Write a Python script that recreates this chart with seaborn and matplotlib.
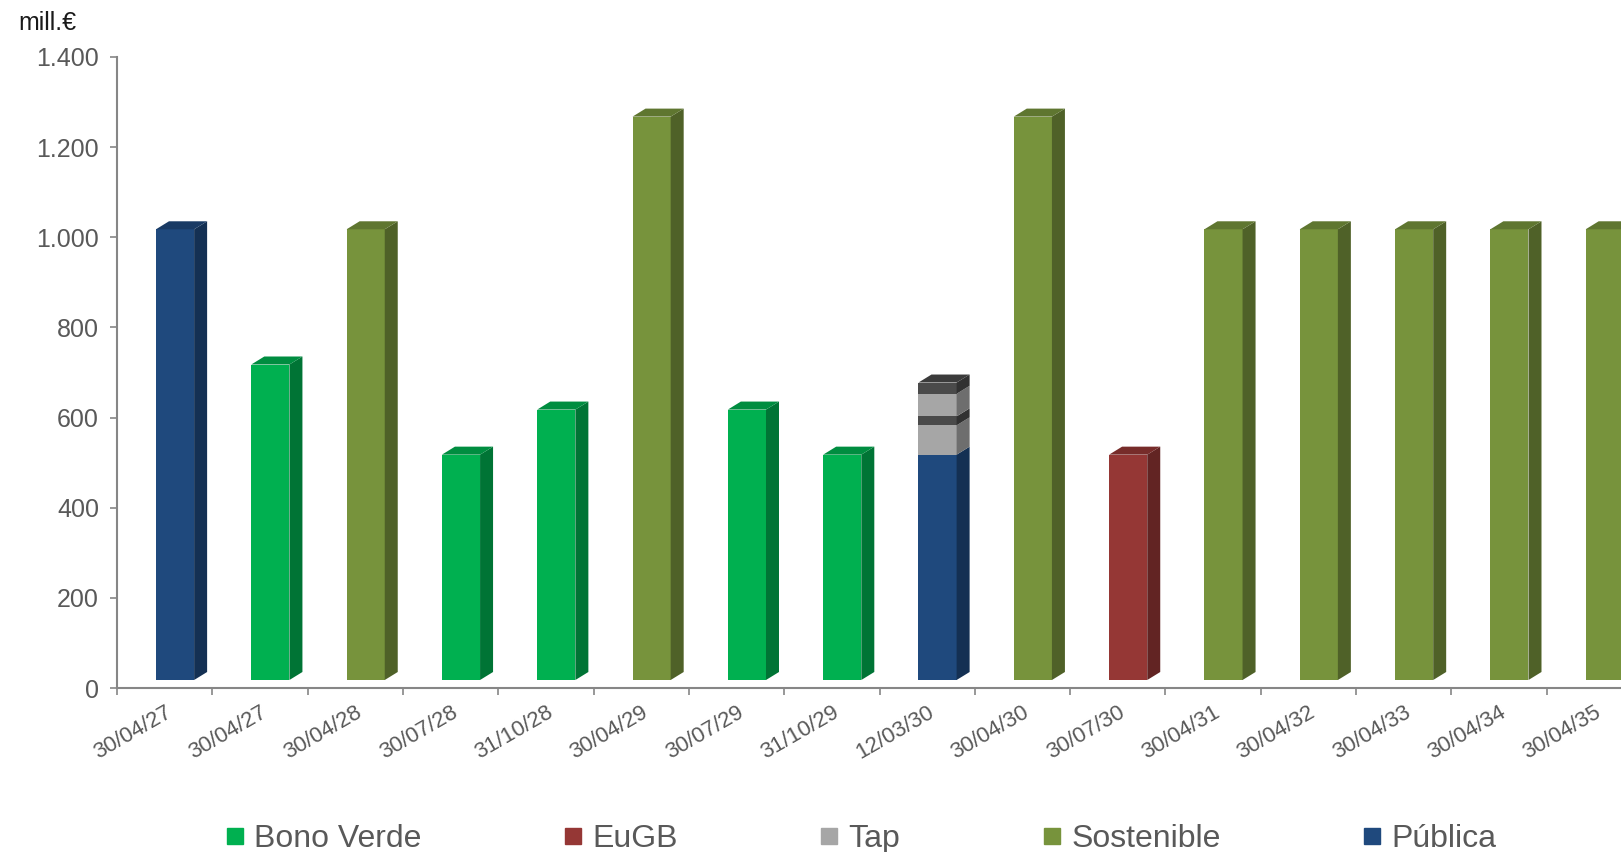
"""
Vencimientos de emisiones (mill.EUR) - barras con efecto 3D
"""
import pandas as pd
import numpy as np
import matplotlib
matplotlib.use("Agg")
import matplotlib.pyplot as plt
import matplotlib.transforms as mtransforms
from matplotlib.patches import Polygon
from matplotlib.lines import Line2D
import seaborn as sns

# Datos
fechas = ["30/04/27", "30/04/27", "30/04/28", "30/07/28", "31/10/28", "30/04/29",
          "30/07/29", "31/10/29", "12/03/30", "30/04/30", "30/07/30", "30/04/31",
          "30/04/32", "30/04/33", "30/04/34", "30/04/35"]
tipos = ["Pública", "Bono Verde", "Sostenible", "Bono Verde", "Bono Verde", "Sostenible",
         "Bono Verde", "Bono Verde", "Pública", "Sostenible", "EuGB", "Sostenible",
         "Sostenible", "Sostenible", "Sostenible", "Sostenible"]
importes = [1000, 700, 1000, 500, 600, 1250, 600, 500, 500, 1250, 500, 1000,
            1000, 1000, 1000, 1000]
# tramos de Tap encima de la Pública del 12/03/30
tap_fecha = "12/03/30"
tap_tramos = [65, 20, 50, 25]

leyenda = ["Bono Verde", "EuGB", "Tap", "Sostenible", "Pública"]
colores = {"Bono Verde": "#00B050", "EuGB": "#953735", "Tap": "#A6A6A6",
           "Sostenible": "#77933C", "Pública": "#1F497D"}
tap_oscuro = "#4A4A4A"

sns.set_style("white")
plt.rcParams["font.family"] = ["Liberation Sans", "DejaVu Sans"]

W, H, DPI = 1621, 852, 100
fig = plt.figure(figsize=(W / DPI, H / DPI), dpi=DPI)
ax = fig.add_axes([117 / W, (H - 688) / H, 1525 / W, (688 - 57) / H])

pos = [str(i) for i in range(len(fechas))]
df = pd.DataFrame({"pos": pos, "tipo": tipos, "importe": importes})

# tramos apilados del Tap: se dibuja del mas alto al mas bajo
i_tap = fechas.index(tap_fecha)
base = importes[i_tap]
acum = list(base + np.cumsum(tap_tramos))
tap_cols = [colores["Tap"] if k % 2 == 0 else tap_oscuro for k in range(len(tap_tramos))]
for val, col in reversed(list(zip(acum, tap_cols))):
    sns.barplot(x=[pos[i_tap]], y=[val], order=pos, color=col, width=0.4,
                saturation=1, ax=ax, linewidth=0)

sns.barplot(data=df, x="pos", y="importe", hue="tipo", order=pos, palette=colores,
            hue_order=list(colores.keys()), dodge=False, width=0.4, saturation=1,
            legend=False, ax=ax, linewidth=0)

ax.set_xlim(-0.5, len(fechas) - 0.5)
ax.set_ylim(0, 1400)

# desplazamiento de la cara frontal (efecto 3D de Excel)
DX, DY = 13, 8
shift = mtransforms.ScaledTranslation(10.4 / DPI, 8 / DPI, fig.dpi_scale_trans)
for p in ax.patches:
    p.set_transform(ax.transData + shift)

def oscurecer(c, f):
    r, g, b, _ = matplotlib.colors.to_rgba(c)
    return (r * f, g * f, b * f)

# caras laterales y superiores
tr = ax.transData + shift
columnas = {}
for p in list(ax.patches):
    if p.get_height() <= 0:
        continue
    key = round(p.get_x() + p.get_width() / 2, 3)
    columnas.setdefault(key, []).append(p)

for key, ps in columnas.items():
    ps = sorted(ps, key=lambda q: q.get_height())
    prev = 0
    for q in ps:
        x0, x1 = q.get_x(), q.get_x() + q.get_width()
        (_, yb) = tr.transform((x1, prev))
        (xr, yt) = tr.transform((x1, q.get_height()))
        side = Polygon([(xr, yb), (xr + DX, yb + DY), (xr + DX, yt + DY), (xr, yt)],
                       closed=True, facecolor=oscurecer(q.get_facecolor(), 0.66),
                       edgecolor="none", transform=mtransforms.IdentityTransform(),
                       clip_on=False, zorder=1)
        ax.add_patch(side)
        prev = q.get_height()
    top = ps[-1]
    (xl, yt) = tr.transform((top.get_x(), top.get_height()))
    (xr, _) = tr.transform((top.get_x() + top.get_width(), top.get_height()))
    cap = Polygon([(xl, yt), (xl + DX, yt + DY), (xr + DX, yt + DY), (xr, yt)],
                  closed=True, facecolor=oscurecer(top.get_facecolor(), 0.8),
                  edgecolor="none", transform=mtransforms.IdentityTransform(),
                  clip_on=False, zorder=1)
    ax.add_patch(cap)

# ejes
gris = "#868686"
texto = "#595959"
sns.despine(ax=ax)
for s in ["left", "bottom"]:
    ax.spines[s].set_color(gris)
    ax.spines[s].set_linewidth(1.5)

ax.set_yticks(range(0, 1401, 200))
ax.set_yticklabels([f"{v:,}".replace(",", ".") for v in range(0, 1401, 200)])
ax.tick_params(axis="y", which="major", left=True, length=5, width=1.2, color=gris,
               labelcolor=texto, labelsize=18, pad=8)

ax.set_xticks(range(len(fechas)))
ax.set_xticklabels(fechas, rotation=30, ha="right", rotation_mode="anchor")
ax.tick_params(axis="x", which="major", length=0, labelcolor=texto, labelsize=16, pad=10)
ax.set_xticks(np.arange(-0.5, len(fechas), 1), minor=True)
ax.tick_params(axis="x", which="minor", bottom=True, length=5, width=1.2, color=gris)
ax.set_xlabel("")
ax.set_ylabel("")

fig.text(18 / W, 1 - 23 / H, "mill.€", fontsize=18, color="#1a1a1a", va="center")

handles = [Line2D([], [], marker="s", linestyle="none", markersize=11,
                  markerfacecolor=colores[k], markeredgecolor=colores[k]) for k in leyenda]
fig.legend(handles, leyenda, loc="center", bbox_to_anchor=(0.531, 1 - 839 / H), ncol=5,
           frameon=False, fontsize=23, labelcolor=texto, columnspacing=4.45,
           handlelength=0.6, handletextpad=0.3)

fig.savefig("out.png", dpi=DPI)
